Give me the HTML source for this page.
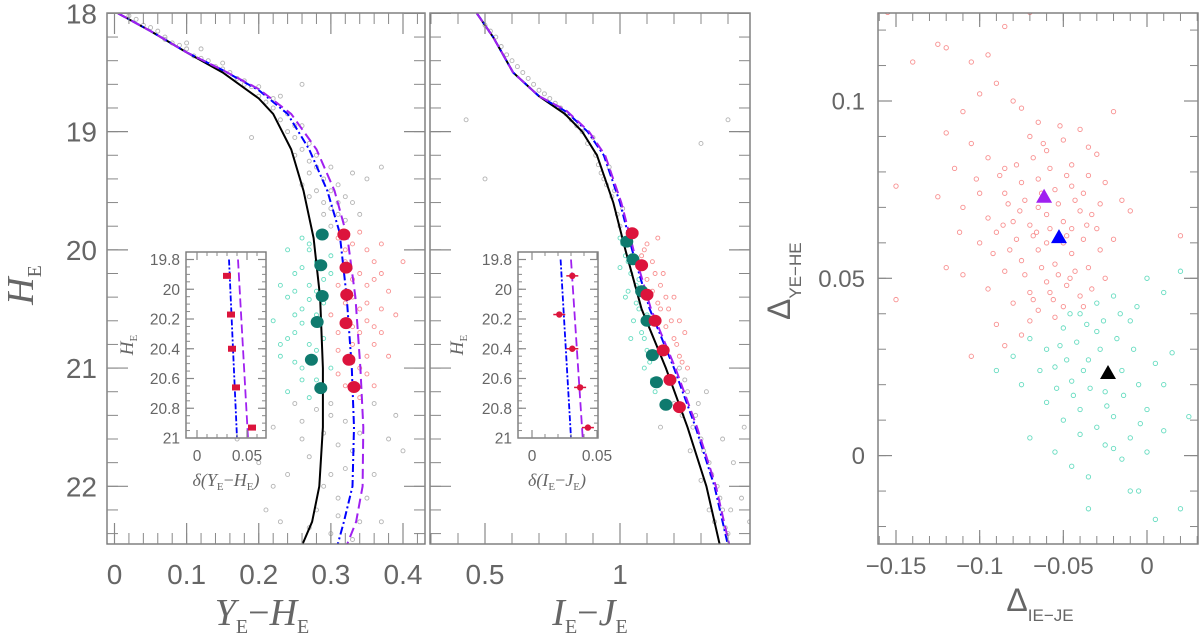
<!DOCTYPE html>
<html><head><meta charset="utf-8"><style>
html,body{margin:0;padding:0;background:#fff;}
svg{display:block;}
text{font-family:"Liberation Sans",sans-serif;fill:#666;}
.it{font-family:"Liberation Serif",serif;font-style:italic;fill:#666;}
</style></head><body>
<svg id="fig" width="1200" height="635" viewBox="0 0 1200 635" xmlns="http://www.w3.org/2000/svg">
<g id="p1"></g>
<g id="p2"></g>
<g id="p3"></g>
<g id="labels">
<text class="it" transform="translate(33,285) rotate(-90)" font-size="38" text-anchor="middle">H<tspan font-size="20" dy="8" font-style="normal">E</tspan></text>
<text class="it" x="262" y="625" font-size="38" text-anchor="middle">Y<tspan font-size="20" dy="8" font-style="normal">E</tspan><tspan dy="-8" font-style="normal">−</tspan>H<tspan font-size="20" dy="8" font-style="normal">E</tspan></text>
<text class="it" x="590" y="625" font-size="38" text-anchor="middle">I<tspan font-size="20" dy="8" font-style="normal">E</tspan><tspan dy="-8" font-style="normal">−</tspan>J<tspan font-size="20" dy="8" font-style="normal">E</tspan></text>
<text transform="translate(790,320) rotate(-90)" font-size="32" font-family="Liberation Serif">Δ<tspan font-size="17" dy="11">YE−HE</tspan></text>
<text x="1040" y="611" font-size="32" text-anchor="middle" font-family="Liberation Serif">Δ<tspan font-size="17" dy="10">IE−JE</tspan></text>
<text class="it" x="226" y="486" font-size="18" text-anchor="middle">δ(Y<tspan font-size="11" dy="4" font-style="normal">E</tspan><tspan dy="-4" font-style="normal">−</tspan>H<tspan font-size="11" dy="4" font-style="normal">E</tspan><tspan dy="-4">)</tspan></text>
<text class="it" x="557" y="486" font-size="18" text-anchor="middle">δ(I<tspan font-size="11" dy="4" font-style="normal">E</tspan><tspan dy="-4" font-style="normal">−</tspan>J<tspan font-size="11" dy="4" font-style="normal">E</tspan><tspan dy="-4">)</tspan></text>
<text class="it" transform="translate(133,345) rotate(-90)" font-size="19" text-anchor="middle">H<tspan font-size="11" dy="4" font-style="normal">E</tspan></text>
<text class="it" transform="translate(463,345) rotate(-90)" font-size="19" text-anchor="middle">H<tspan font-size="11" dy="4" font-style="normal">E</tspan></text>
</g>
</svg>
<script>
// ---------- data ----------
const isoBlackYH=[[0.005,18],[0.05,18.15],[0.1,18.33],[0.15,18.5],[0.2,18.72],[0.22,18.85],[0.245,19.15],[0.262,19.5],[0.276,19.9],[0.285,20.4],[0.289,21],[0.289,21.5],[0.284,22],[0.274,22.3],[0.26,22.5]];
const isoBlueYH=[[0.005,18],[0.05,18.15],[0.1,18.33],[0.15,18.48],[0.2,18.65],[0.24,18.85],[0.27,19.15],[0.295,19.5],[0.312,19.85],[0.322,20.4],[0.329,21],[0.332,21.5],[0.33,22],[0.318,22.3],[0.309,22.5]];
const isoMagYH=[[0.005,18],[0.05,18.15],[0.1,18.33],[0.15,18.48],[0.2,18.64],[0.245,18.85],[0.28,19.15],[0.305,19.5],[0.323,19.9],[0.334,20.4],[0.341,21],[0.345,21.5],[0.344,22],[0.335,22.3],[0.322,22.5]];
const isoBlackIJ=[[0.47,18],[0.53,18.2],[0.604,18.5],[0.7,18.7],[0.796,18.85],[0.86,19.0],[0.915,19.2],[0.975,19.6],[1.02,20],[1.08,20.5],[1.17,21],[1.25,21.5],[1.32,22],[1.37,22.5]];
const isoBlueIJ=[[0.47,18],[0.53,18.2],[0.604,18.5],[0.7,18.7],[0.8,18.83],[0.88,19.0],[0.94,19.2],[1.0,19.6],[1.045,20],[1.11,20.5],[1.2,21],[1.28,21.5],[1.35,22],[1.4,22.5]];
const isoMagIJ=[[0.47,18],[0.53,18.2],[0.604,18.5],[0.7,18.7],[0.8,18.82],[0.885,19.0],[0.945,19.2],[1.005,19.6],[1.05,20],[1.115,20.5],[1.205,21],[1.285,21.5],[1.355,22],[1.405,22.5]];
const fidTealYH=[[0.288,19.87],[0.286,20.13],[0.288,20.39],[0.281,20.61],[0.273,20.93],[0.286,21.17]];
const fidRedYH=[[0.318,19.87],[0.321,20.15],[0.322,20.38],[0.321,20.62],[0.325,20.93],[0.332,21.16]];
const fidTealIJ=[[1.025,19.93],[1.048,20.08],[1.08,20.35],[1.1,20.6],[1.12,20.89],[1.135,21.12],[1.17,21.31]];
const fidRedIJ=[[1.045,19.86],[1.08,20.13],[1.1,20.38],[1.13,20.6],[1.16,20.85],[1.185,21.1],[1.22,21.33]];
const insetH=[19.91,20.17,20.4,20.66,20.93];
const insetDeltaYH=[0.030,0.034,0.035,0.039,0.055];
const insetDeltaIJ=[0.031,0.021,0.031,0.037,0.043];
const insetBlueYH=[[0.032,19.8],[0.040,21]];
const insetMagYH=[[0.041,19.8],[0.051,21]];
const insetBlueIJ=[[0.022,19.8],[0.030,21]];
const insetMagIJ=[[0.030,19.8],[0.039,21]];
const triX=[-0.0615,-0.0526,-0.0233];
const triY=[0.073,0.0616,0.0233];
const triColors=['#a020f0','#0000ff','#000000'];
const grayYH=[[0.02,18.02],[0.03,18.05],[0.04,18.1],[0.05,18.12],[0.06,18.15],[0.07,18.22],[0.08,18.25],[0.09,18.27],[0.1,18.3],[0.11,18.36],[0.12,18.38],[0.13,18.4],[0.14,18.45],[0.15,18.47],[0.16,18.5],[0.17,18.55],[0.18,18.57],[0.19,18.62],[0.2,18.7],[0.21,18.75],[0.22,18.8],[0.23,18.9],[0.24,19.0],[0.25,19.05],[0.26,19.15],[0.27,19.25],[0.28,19.3],[0.29,19.4],[0.3,19.5],[0.27,19.55],[0.31,19.6],[0.29,19.7],[0.32,19.75],[0.3,19.8],[0.33,19.35],[0.26,19.45],[0.25,18.95],[0.23,18.7],[0.18,18.6],[0.12,18.3],[0.07,18.2],[0.1,18.25],[0.15,18.42],[0.2,18.62],[0.22,18.72],[0.24,18.85],[0.26,18.95],[0.27,19.1],[0.28,19.2],[0.3,19.3],[0.31,19.45],[0.28,19.5],[0.29,19.6],[0.31,19.7],[0.33,19.6],[0.3,19.65],[0.27,19.35],[0.25,19.2],[0.32,19.55],[0.34,19.7],[0.3,21.4],[0.26,21.6],[0.33,21.7],[0.24,21.9],[0.31,22.1],[0.36,21.9],[0.28,22.2],[0.34,22.3],[0.22,22.0],[0.38,21.6],[0.2,21.8],[0.3,22.4],[0.35,19.4],[0.37,19.3],[0.19,19.05],[0.26,18.6],[0.3,21.9],[0.25,21.3],[0.36,21.3],[0.32,21.45],[0.22,21.5],[0.4,21.7],[0.17,21.6],[0.27,22.35],[0.33,22.45],[0.29,21.55],[0.31,21.65],[0.27,21.75],[0.34,21.55],[0.26,21.45],[0.32,21.85],[0.35,22.1],[0.29,22.0],[0.23,22.3],[0.37,22.3],[0.3,21.3],[0.28,21.35],[0.31,22.25],[0.39,21.4],[0.21,22.2]];
const grayIJ=[[0.5,18.1],[0.52,18.15],[0.54,18.2],[0.56,18.28],[0.58,18.35],[0.6,18.4],[0.62,18.45],[0.64,18.5],[0.66,18.55],[0.68,18.6],[0.7,18.65],[0.72,18.68],[0.74,18.72],[0.76,18.76],[0.78,18.8],[0.8,18.84],[0.82,18.9],[0.84,18.95],[0.86,19.0],[0.88,19.1],[0.91,19.2],[0.92,19.28],[0.93,19.35],[0.95,19.45],[0.97,19.55],[0.99,19.7],[1.0,19.8],[0.9,19.05],[0.8,18.85],[0.96,19.3],[0.94,19.4],[0.98,19.5],[1.01,19.65],[0.43,18.9],[0.5,19.4],[1.22,21.0],[1.25,21.2],[1.28,21.4],[1.3,21.6],[1.33,21.8],[1.36,22.0],[1.38,22.2],[1.4,22.4],[1.26,21.7],[1.3,21.95],[1.35,22.3],[1.2,21.3],[1.42,21.8],[1.45,22.1],[1.46,21.5],[1.15,21.5],[1.32,21.2],[1.38,21.6],[1.48,22.3],[1.3,19.1],[1.4,18.9],[1.24,21.1],[1.27,21.5],[1.29,21.3],[1.31,21.7],[1.34,21.9],[1.37,22.1],[1.39,22.35],[1.23,21.4],[1.33,22.2],[1.41,22.2]];
const tealYH=[[0.26,19.9],[0.27,20.0],[0.28,20.1],[0.25,20.2],[0.27,20.3],[0.24,20.4],[0.26,20.5],[0.28,20.55],[0.25,20.7],[0.27,20.8],[0.23,20.9],[0.26,21.0],[0.28,21.1],[0.24,21.2],[0.29,20.75],[0.3,20.2],[0.22,20.6],[0.26,20.15],[0.29,20.45],[0.25,20.95],[0.27,21.25],[0.3,20.05],[0.24,20.0],[0.28,20.35],[0.23,20.3],[0.3,21.0],[0.26,20.62],[0.27,20.42],[0.25,20.55],[0.28,20.85],[0.24,20.75],[0.29,20.25],[0.26,21.1],[0.27,19.95],[0.25,20.35],[0.23,20.8]];
const redYH=[[0.31,19.9],[0.33,19.95],[0.35,20.0],[0.32,20.1],[0.34,20.2],[0.36,20.25],[0.31,20.3],[0.33,20.4],[0.35,20.45],[0.37,20.5],[0.32,20.6],[0.34,20.7],[0.36,20.8],[0.31,20.85],[0.33,20.95],[0.35,21.05],[0.32,21.15],[0.34,21.25],[0.38,20.35],[0.3,20.55],[0.36,20.1],[0.38,20.9],[0.33,20.25],[0.35,20.6],[0.4,20.1],[0.31,21.05],[0.37,19.95],[0.34,19.85],[0.32,20.45],[0.34,20.5],[0.36,20.65],[0.33,20.8],[0.35,20.9],[0.37,20.7],[0.31,20.7],[0.34,21.0],[0.36,21.15],[0.32,20.0],[0.35,20.3],[0.37,20.2],[0.33,20.65],[0.39,20.55]];
const tealIJ=[[1.0,19.9],[1.02,20.05],[1.04,20.2],[1.03,20.35],[1.06,20.45],[1.05,20.6],[1.08,20.7],[1.1,20.85],[1.09,21.0],[1.12,21.1],[1.0,20.15],[1.02,20.4],[1.07,20.25],[1.04,20.75],[1.1,20.55],[1.13,21.2],[1.01,19.95],[1.03,20.1],[1.06,20.3],[1.07,20.5],[1.09,20.75],[1.11,20.95]];
const redIJ=[[1.06,19.85],[1.1,19.95],[1.12,20.1],[1.1,20.25],[1.15,20.3],[1.14,20.45],[1.18,20.5],[1.17,20.65],[1.2,20.75],[1.22,20.9],[1.25,21.0],[1.14,19.9],[1.16,20.2],[1.2,20.4],[1.22,20.6],[1.08,20.05],[1.24,20.7],[1.12,20.35],[1.09,20.0],[1.13,20.2],[1.15,20.5],[1.17,20.4],[1.19,20.6],[1.21,20.8],[1.23,20.95]];
const redMap=[[-0.155,0.125],[-0.14,0.111],[-0.125,0.116],[-0.12,0.115],[-0.105,0.111],[-0.095,0.113],[-0.085,0.121],[-0.07,0.125],[-0.1,0.102],[-0.11,0.097],[-0.12,0.091],[-0.105,0.088],[-0.09,0.105],[-0.08,0.1],[-0.075,0.098],[-0.065,0.094],[-0.095,0.084],[-0.085,0.081],[-0.07,0.09],[-0.06,0.086],[-0.05,0.089],[-0.045,0.082],[-0.035,0.087],[-0.02,0.097],[-0.15,0.076],[-0.125,0.073],[-0.11,0.07],[-0.095,0.067],[-0.085,0.074],[-0.075,0.077],[-0.065,0.078],[-0.055,0.075],[-0.045,0.076],[-0.035,0.079],[-0.025,0.077],[-0.015,0.072],[-0.1,0.06],[-0.09,0.063],[-0.08,0.066],[-0.07,0.065],[-0.06,0.068],[-0.05,0.066],[-0.04,0.069],[-0.03,0.064],[-0.02,0.061],[-0.01,0.069],[0.02,0.062],[-0.12,0.053],[-0.11,0.051],[-0.095,0.047],[-0.085,0.052],[-0.075,0.055],[-0.065,0.058],[-0.055,0.054],[-0.045,0.057],[-0.035,0.053],[-0.025,0.05],[-0.15,0.044],[-0.08,0.043],[-0.07,0.046],[-0.06,0.049],[-0.05,0.042],[-0.04,0.045],[-0.09,0.037],[-0.075,0.034],[-0.065,0.041],[-0.055,0.039],[-0.105,0.028],[-0.085,0.031],[-0.06,0.06],[-0.05,0.06],[-0.065,0.07],[-0.045,0.064],[-0.088,0.079],[-0.078,0.082],[-0.068,0.084],[-0.058,0.081],[-0.048,0.079],[-0.038,0.074],[-0.028,0.071],[-0.083,0.071],[-0.073,0.072],[-0.063,0.074],[-0.053,0.071],[-0.043,0.072],[-0.033,0.068],[-0.078,0.061],[-0.068,0.062],[-0.058,0.064],[-0.048,0.062],[-0.038,0.061],[-0.028,0.058],[-0.073,0.051],[-0.063,0.053],[-0.053,0.051],[-0.043,0.052],[-0.033,0.047],[-0.068,0.044],[-0.058,0.046],[-0.048,0.048],[-0.038,0.042],[-0.1,0.074],[-0.092,0.057],[-0.082,0.058],[-0.07,0.038],[-0.062,0.088],[-0.052,0.093],[-0.115,0.081],[-0.102,0.078],[-0.112,0.063],[-0.04,0.092],[-0.03,0.085],[-0.056,0.044],[-0.046,0.05],[-0.066,0.063],[-0.076,0.069],[-0.086,0.065],[-0.036,0.065]];
const tealMap=[[-0.08,0.028],[-0.07,0.033],[-0.06,0.03],[-0.05,0.036],[-0.04,0.04],[-0.03,0.043],[-0.02,0.045],[-0.01,0.038],[0.0,0.05],[0.01,0.046],[0.02,0.052],[-0.055,0.025],[-0.045,0.021],[-0.035,0.027],[-0.025,0.018],[-0.015,0.024],[-0.005,0.02],[0.005,0.026],[0.015,0.029],[-0.075,0.02],[-0.06,0.015],[-0.05,0.01],[-0.04,0.013],[-0.03,0.008],[-0.02,0.011],[-0.01,0.005],[0.0,0.013],[0.01,0.007],[0.025,0.011],[-0.07,0.005],[-0.055,0.001],[-0.045,-0.003],[-0.035,-0.006],[-0.025,0.003],[-0.015,-0.001],[-0.005,-0.01],[0.005,-0.018],[0.02,-0.015],[-0.035,-0.015],[-0.01,-0.01],[-0.09,0.024],[0.01,0.02],[-0.03,0.035],[-0.042,0.032],[-0.052,0.031],[-0.048,0.027],[-0.038,0.024],[-0.028,0.03],[-0.018,0.033],[-0.008,0.03],[-0.044,0.017],[-0.034,0.019],[-0.024,0.014],[-0.014,0.017],[-0.004,0.009],[-0.054,0.019],[-0.064,0.024],[-0.046,0.04],[-0.036,0.037],[-0.026,0.038],[-0.016,0.04],[-0.006,0.042],[-0.02,0.002],[-0.04,0.006],[0.0,0.001]];
// ---------- helpers ----------
const NS='http://www.w3.org/2000/svg';
function mk(parent,tag,attrs){const e=document.createElementNS(NS,tag);for(const k in attrs)e.setAttribute(k,attrs[k]);parent.appendChild(e);return e;}
function scale(d0,d1,r0,r1){return v=>r0+(v-d0)/(d1-d0)*(r1-r0);}
function frame(g,x0,y0,x1,y1,sx,sy,xt,yt,opt){
  const box=mk(g,'rect',{x:x0,y:y0,width:x1-x0,height:y1-y0,fill:'none',stroke:'#777','stroke-width':1.4});
  
  
  const L=opt.major,l=opt.minor;
  xt.minor.forEach(v=>{const x=sx(v);if(x<x0||x>x1)return;mk(g,'line',{x1:x,x2:x,y1:y1,y2:y1-l,stroke:'#888'});mk(g,'line',{x1:x,x2:x,y1:y0,y2:y0+l,stroke:'#888'});});
  xt.major.forEach((v,i)=>{const x=sx(v);mk(g,'line',{x1:x,x2:x,y1:y1,y2:y1-L,stroke:'#888','stroke-width':1.2});mk(g,'line',{x1:x,x2:x,y1:y0,y2:y0+L,stroke:'#888','stroke-width':1.2});
    if(xt.labels){const t=mk(g,'text',{x:x,y:y1+opt.xpad,'font-size':opt.fs,'text-anchor':'middle'});t.textContent=xt.labels[i];
    
    }});
  yt.minor.forEach(v=>{const y=sy(v);if(y<y0||y>y1)return;mk(g,'line',{x1:x0,x2:x0+l,y1:y,y2:y,stroke:'#888'});mk(g,'line',{x1:x1,x2:x1-l,y1:y,y2:y,stroke:'#888'});});
  yt.major.forEach((v,i)=>{const y=sy(v);mk(g,'line',{x1:x0,x2:x0+L,y1:y,y2:y,stroke:'#888','stroke-width':1.2});mk(g,'line',{x1:x1,x2:x1-L,y1:y,y2:y,stroke:'#888','stroke-width':1.2});
    if(yt.labels){const t=mk(g,'text',{x:x0-opt.ypad,y:y+opt.fs*0.36,'font-size':opt.fs,'text-anchor':'end'});t.textContent=yt.labels[i];
    
    }});
}
function rng(a,b,s){const r=[];for(let v=a;v<=b+1e-9;v+=s)r.push(+v.toFixed(4));return r;}
function line(g,pts,sx,sy,color,dash,w,name){
  const p=mk(g,'polyline',{points:pts.map(p=>sx(p[0]).toFixed(1)+','+sy(p[1]).toFixed(1)).join(' '),fill:'none',stroke:color,'stroke-width':w||2,'stroke-dasharray':dash||'none'});
  
  
}
function scatter(g,pts,sx,sy,color,r,name){
  pts.forEach(p=>{const c=mk(g,'circle',{cx:sx(p[0]),cy:sy(p[1]),r:r,fill:'none',stroke:color,'stroke-width':0.9});
  
  });
}
function dots(g,pts,sx,sy,color,name){
  pts.forEach(p=>{const e=mk(g,'ellipse',{cx:sx(p[0]),cy:sy(p[1]),rx:6.5,ry:6,fill:color});
  
  });
}
function clip(g,id,x0,y0,x1,y1){const d=mk(g,'clipPath',{id:id});mk(d,'rect',{x:x0,y:y0,width:x1-x0,height:y1-y0});return mk(g,'g',{'clip-path':'url(#'+id+')'});}
const GRAY='#b4b4b4',TEAL='#66dcc0',RED='#f89090',DTEAL='#0f7a6e',DRED='#dc143c',BLUE='#0000ff',MAG='#a020f0';
const FY0=13,FY1=544;
const mainOpt={major:21,minor:11,fs:28,xpad:40,ypad:10};
const Hticks={major:[18,19,20,21,22],minor:rng(18,22.5,0.2),labels:['18','19','20','21','22']};
const insetOpt={major:8,minor:4,fs:15.5,xpad:23,ypad:6};
const insetYT={major:[19.8,20,20.2,20.4,20.6,20.8,21],minor:rng(19.8,21,0.05),labels:['19.8','20','20.2','20.4','20.6','20.8','21']};

// ---------- panel 1 ----------
(function(){
  const g=document.getElementById('p1');
  const x0=107,x1=425,y0=FY0,y1=FY1;
  const sx=scale(0,0.4,114.5,403),sy=scale(18,22,13.4,486.3);
  const c=clip(g,'c1',x0,y0,x1,y1);
  scatter(c,grayYH,sx,sy,GRAY,2,'star-gray');
  scatter(c,tealYH,sx,sy,TEAL,2,'star-1g');
  scatter(c,redYH,sx,sy,RED,2,'star-2g');
  line(c,isoBlackYH,sx,sy,'#000','',2,'isochrone-black');
  line(c,isoBlueYH,sx,sy,BLUE,'8,3,2,3',2,'isochrone-blue');
  line(c,isoMagYH,sx,sy,MAG,'10,5',2,'isochrone-magenta');
  dots(c,fidTealYH,sx,sy,DTEAL,'fiducial-1g');
  dots(c,fidRedYH,sx,sy,DRED,'fiducial-2g');
  frame(g,x0,y0,x1,y1,sx,sy,{major:[0,0.1,0.2,0.3,0.4],minor:rng(0,0.42,0.02),labels:['0','0.1','0.2','0.3','0.4']},Hticks,mainOpt);
  const ig=mk(g,'g',{});
  
  
  const ix0=186,ix1=266,iy0=252,iy1=438;
  mk(ig,'rect',{x:ix0,y:iy0,width:ix1-ix0,height:iy1-iy0,fill:'#fff'});
  const isx=scale(0,0.05,197,247),isy=scale(19.8,21,259.5,438);
  line(ig,insetBlueYH,isx,isy,BLUE,'6,2,2,2',1.8,'inset-line-blue');
  line(ig,insetMagYH,isx,isy,MAG,'9,4',1.8,'inset-line-magenta');
  insetH.forEach((h,i)=>{const r=mk(ig,'rect',{x:isx(insetDeltaYH[i])-4,y:isy(h)-3,width:8,height:6,fill:DRED});
    
    });
  frame(ig,ix0,iy0,ix1,iy1,isx,isy,{major:[0,0.05],minor:rng(0,0.065,0.01),labels:['0','0.05']},insetYT,insetOpt);
})();

// ---------- panel 2 ----------
(function(){
  const g=document.getElementById('p2');
  const x0=430,x1=750,y0=FY0,y1=FY1;
  const sx=scale(0.5,1,485,620),sy=scale(18,22,13.4,486.3);
  const c=clip(g,'c2',x0,y0,x1,y1);
  scatter(c,grayIJ,sx,sy,GRAY,2,'star-gray');
  scatter(c,tealIJ,sx,sy,TEAL,2,'star-1g');
  scatter(c,redIJ,sx,sy,RED,2,'star-2g');
  line(c,isoBlackIJ,sx,sy,'#000','',2,'isochrone-black');
  line(c,isoBlueIJ,sx,sy,BLUE,'8,3,2,3',2,'isochrone-blue');
  line(c,isoMagIJ,sx,sy,MAG,'10,5',2,'isochrone-magenta');
  dots(c,fidTealIJ,sx,sy,DTEAL,'fiducial-1g');
  dots(c,fidRedIJ,sx,sy,DRED,'fiducial-2g');
  frame(g,x0,y0,x1,y1,sx,sy,{major:[0.5,1],minor:rng(0.3,1.7,0.1),labels:['0.5','1']},{major:Hticks.major,minor:Hticks.minor},mainOpt);
  const ig=mk(g,'g',{});
  
  
  const ix0=518,ix1=598,iy0=252,iy1=438;
  mk(ig,'rect',{x:ix0,y:iy0,width:ix1-ix0,height:iy1-iy0,fill:'#fff'});
  const isx=scale(0,0.05,532,597),isy=scale(19.8,21,259.5,438);
  line(ig,insetBlueIJ,isx,isy,BLUE,'6,2,2,2',1.8,'inset-line-blue');
  line(ig,insetMagIJ,isx,isy,MAG,'9,4',1.8,'inset-line-magenta');
  insetH.forEach((h,i)=>{const x=isx(insetDeltaIJ[i]),y=isy(h);
    const e=mk(ig,'line',{x1:x-6,x2:x+6,y1:y,y2:y,stroke:DRED,'stroke-width':1.5});
    
    
    const p=mk(ig,'circle',{cx:x,cy:y,r:3.2,fill:DRED});
    
    });
  frame(ig,ix0,iy0,ix1,iy1,isx,isy,{major:[0,0.05],minor:rng(0,0.06,0.01),labels:['0','0.05']},insetYT,insetOpt);
})();

// ---------- panel 3 ----------
(function(){
  const g=document.getElementById('p3');
  const x0=878,x1=1198,y0=FY0,y1=FY1;
  const sx=scale(-0.15,0,896,1147),sy=scale(0,0.1,455.6,101);
  const c=clip(g,'c3',x0,y0,x1,y1);
  scatter(c,redMap,sx,sy,RED,2.2,'map-star-2g');
  scatter(c,tealMap,sx,sy,TEAL,2.2,'map-star-1g');
  triX.forEach((v,i)=>{const x=sx(v),y=sy(triY[i]);
    const p=mk(c,'polygon',{points:`${x-8},${y+6} ${x+8},${y+6} ${x},${y-8}`,fill:triColors[i]});
    
    });
  frame(g,x0,y0,x1,y1,sx,sy,{major:[-0.15,-0.1,-0.05,0],minor:rng(-0.16,0.03,0.01),labels:['−0.15','−0.1','−0.05','0']},{major:[0,0.05,0.1],minor:rng(-0.02,0.12,0.01),labels:['0','0.05','0.1']},{major:14,minor:8,fs:24,xpad:30,ypad:13});
})();
</script>
</body></html>
